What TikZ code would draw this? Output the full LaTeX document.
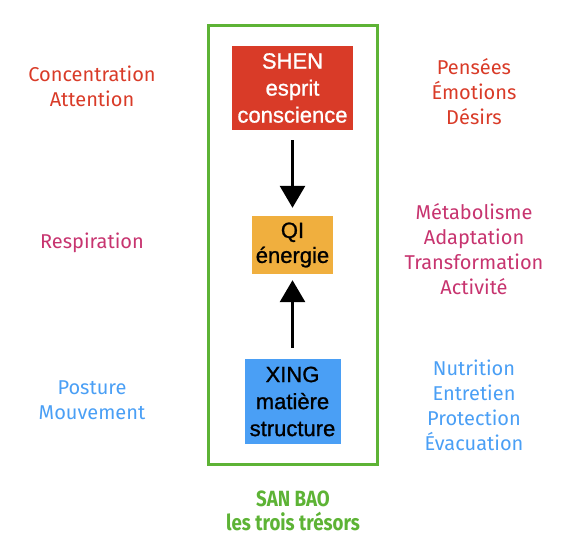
\documentclass[tikz,border=0pt]{standalone}
\usepackage{fontspec}
\setmainfont{Liberation Sans}
\newfontfamily\boxfont[FakeBold=1]{Liberation Sans}
\newfontfamily\handfont{Fira Sans}
\newfontfamily\titlefont[FakeStretch=0.85]{Fira Sans}
\usetikzlibrary{arrows.meta}
\definecolor{shenred}{HTML}{D93B28}
\definecolor{qiorange}{HTML}{F0AF3E}
\definecolor{xingblue}{HTML}{4A9FF5}
\definecolor{qimagenta}{HTML}{C7346F}
\definecolor{baogreen}{HTML}{5DB335}
\tikzset{
  treasure/.style={inner sep=0pt, align=center, font=\boxfont\fontsize{22}{27}\selectfont},
  note/.style={inner sep=0pt, align=center, font=\handfont\fontsize{20}{25}\selectfont},
  flow/.style={line width=3pt, -{Triangle[width=25pt,length=22pt]}},
}
\begin{document}
\begin{tikzpicture}[x=1pt,y=-1pt]
  \useasboundingbox (0,0) rectangle (584,553);
  % green frame
  \draw[baogreen, line width=3pt] (208,26) rectangle (377,464);

  % the three treasures
  \node[treasure, fill=shenred, text=white, minimum width=121pt, minimum height=84pt] (shen) at (292.5,88) {SHEN\\esprit\\conscience};
  \node[treasure, fill=qiorange, minimum width=81pt, minimum height=58pt, font=\boxfont\fontsize{22}{25}\selectfont] (qi) at (292.5,245) {QI\\énergie};
  \node[treasure, fill=xingblue, minimum width=96pt, minimum height=85pt] (xing) at (292.5,401.5) {XING\\matière\\structure};

  % arrows
  \draw[flow, shorten <=10pt, shorten >=8pt] (shen.south) -- (qi.north);
  \draw[flow, shorten <=11pt, shorten >=6pt] (xing.north) -- (qi.south);

  % left notes
  \node[note, text=shenred] (concentration) at (92,86) {Concentration\\Attention};
  \node[note, text=qimagenta] (respiration) at (92,243) {Respiration};
  \node[note, text=xingblue] (posture) at (92,400) {Posture\\Mouvement};

  % right notes
  \node[note, text=shenred] (pensees) at (474,92) {Pensées\\Émotions\\Désirs};
  \node[note, text=qimagenta] (metabolisme) at (474,249) {Métabolisme\\Adaptation\\Transformation\\Activité};
  \node[note, text=xingblue] (nutrition) at (474,405) {Nutrition\\Entretien\\Protection\\Évacuation};

  % title
  \node[inner sep=0pt, align=center, text=baogreen, font=\titlefont\bfseries\fontsize{22}{24}\selectfont] (sanbao) at (293,511) {SAN BAO\\les trois trésors};
\end{tikzpicture}
\end{document}
